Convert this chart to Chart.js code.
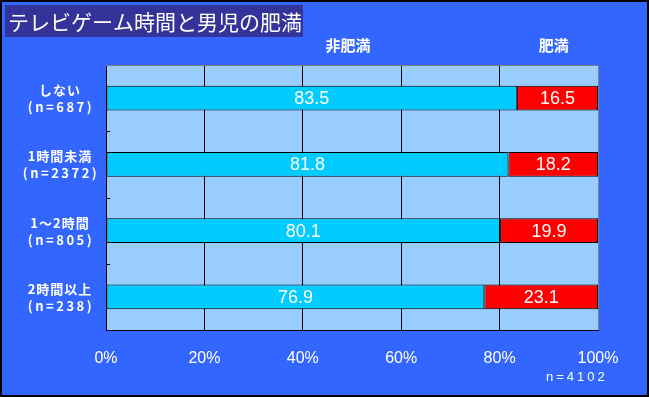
<!DOCTYPE html>
<html><head><meta charset="utf-8">
<script src="https://cdn.jsdelivr.net/npm/chart.js@4"></script>
<style>html,body{margin:0;padding:0;background:#3366FF;}canvas{display:block;}</style>
</head><body>
<div style="width:649px;height:397px;position:relative"><canvas id="c" width="649" height="397"></canvas></div>
<script>
const title = 'テレビゲーム時間と男児の肥満';
const categories = ['しない','1時間未満','1～2時間','2時間以上'];
const sampleSizes = ['(n=687)','(n=2372)','(n=805)','(n=238)'];
const seriesNames = ['非肥満','肥満'];
const nonObese = [83.5, 81.8, 80.1, 76.9];
const obese = [16.5, 18.2, 19.9, 23.1];
const xTicks = [0,20,40,60,80,100];
const note = 'n=4102';
const CJK = '"Noto Sans CJK JP", sans-serif';

const deco = {
  id:'deco',
  beforeDraw(chart){
    const {ctx, chartArea:a} = chart;
    ctx.save();
    ctx.fillStyle = '#3366FF';
    ctx.fillRect(0,0,chart.width,chart.height);
    ctx.fillStyle = '#99CCFF';
    ctx.fillRect(a.left,a.top,a.right-a.left,a.bottom-a.top);
    ctx.restore();
  },
  afterDraw(chart){
    const {ctx, chartArea:a} = chart;
    ctx.save();
    ctx.strokeStyle = '#808080'; ctx.lineWidth = 1;
    ctx.beginPath();
    ctx.moveTo(a.left, a.top+0.5); ctx.lineTo(a.right+0.5, a.top+0.5); ctx.lineTo(a.right+0.5, a.bottom);
    ctx.stroke();
    const ys = chart.scales.y;
    ctx.strokeStyle = '#000';
    for (let i=1;i<categories.length;i++){
      const y = Math.round((ys.getPixelForValue(i-1)+ys.getPixelForValue(i))/2)+0.5;
      ctx.beginPath(); ctx.moveTo(a.left, y); ctx.lineTo(a.left+4, y); ctx.stroke();
    }
    ctx.fillStyle = '#fff';
    ctx.textAlign = 'center'; ctx.textBaseline = 'middle';
    categories.forEach((c,i)=>{
      const y = ys.getPixelForValue(i);
      ctx.font = 'bold 13px ' + CJK;
      ctx.letterSpacing = '1px';
      ctx.fillText(c, 60, y-8);
      ctx.letterSpacing = '2.5px';
      ctx.fillText(sampleSizes[i], 61, y+9);
    });
    ctx.letterSpacing = '0px';
    ctx.font = '18px "Liberation Sans", Arial, sans-serif';
    chart.data.datasets.forEach((ds, di) => {
      chart.getDatasetMeta(di).data.forEach((el, i) => {
        const p = el.getProps(['x','base','y'], true);
        ctx.fillText(ds.data[i].toFixed(1), (p.x+p.base)/2, p.y+1);
      });
    });
    ctx.font = 'bold 15px ' + CJK;
    const xs = chart.scales.x;
    ctx.fillText(seriesNames[0], xs.getPixelForValue(49.2), 45);
    ctx.fillText(seriesNames[1], xs.getPixelForValue(91), 45);
    ctx.fillStyle = '#333399';
    ctx.fillRect(5,5,298,32);
    ctx.fillStyle = '#fff';
    ctx.font = '21px ' + CJK;
    ctx.textAlign = 'left';
    ctx.fillText(title, 8, 22);
    ctx.font = '13px "Liberation Sans", Arial, sans-serif';
    ctx.letterSpacing = '3px';
    ctx.fillText(note, 546, 377);
    ctx.letterSpacing = '0px';
    ctx.strokeStyle = '#000'; ctx.lineWidth = 2;
    ctx.strokeRect(1,1,chart.width-2,chart.height-2);
    ctx.restore();
  }
};

new Chart(document.getElementById('c'), {
  type:'bar',
  data:{
    labels: categories,
    datasets:[
      {label:seriesNames[0], data:nonObese, backgroundColor:'#00CCFF', borderColor:'#000', borderWidth:1, borderSkipped:false},
      {label:seriesNames[1], data:obese, backgroundColor:'#FF0000', borderColor:'#000', borderWidth:1, borderSkipped:false}
    ]
  },
  options:{
    indexAxis:'y',
    responsive:false,
    animation:false,
    layout:{padding:{left:0,right:51,top:65,bottom:0}},
    plugins:{legend:{display:false}, tooltip:{enabled:false}, title:{display:false}},
    datasets:{bar:{barPercentage:0.37, categoryPercentage:1}},
    scales:{
      x:{
        stacked:true, min:0, max:100,
        afterBuildTicks(s){ s.ticks = xTicks.map(v=>({value:v})); },
        afterFit(s){ s.height = 67; },
        grid:{color:'#000', lineWidth:1, drawTicks:false},
        border:{color:'#000', width:1},
        ticks:{color:'#fff', padding:19, font:{family:'"Liberation Sans", Arial, sans-serif', size:16}, callback:v=>v+'%', maxRotation:0, autoSkip:false}
      },
      y:{
        stacked:true,
        afterFit(s){ s.width = 106; },
        grid:{display:false, drawTicks:false},
        border:{color:'#000', width:1},
        ticks:{display:false}
      }
    }
  },
  plugins:[deco]
});
</script>
</body></html>
